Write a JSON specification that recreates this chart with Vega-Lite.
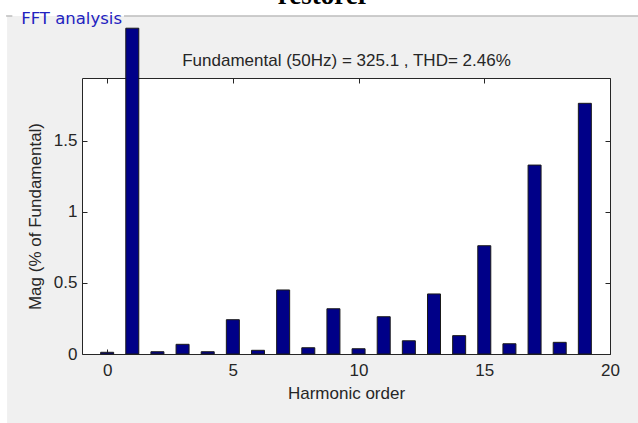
{
  "$schema": "https://vega.github.io/schema/vega-lite/v6.json",
  "width": 528,
  "height": 276,
  "autosize": {"type": "none"},
  "padding": {"left": 82, "top": 78, "right": 28, "bottom": 69},
  "background": "#f0f0f0",
  "config": {
    "view": {"fill": "white", "stroke": null},
    "axis": {
      "grid": false,
      "domainColor": "#262626",
      "tickColor": "#262626",
      "tickSize": -5,
      "labelFont": "Liberation Sans",
      "labelFontSize": 17,
      "labelColor": "#262626",
      "labelFlush": false,
      "titleFont": "Liberation Sans",
      "titleFontSize": 17,
      "titleFontWeight": "normal",
      "titleColor": "#262626"
    }
  },
  "data": {
    "values": [
      {"h": 0, "mag": 0.012},
      {"h": 1, "mag": 2.29},
      {"h": 2, "mag": 0.016},
      {"h": 3, "mag": 0.068},
      {"h": 4, "mag": 0.016},
      {"h": 5, "mag": 0.241},
      {"h": 6, "mag": 0.026},
      {"h": 7, "mag": 0.45},
      {"h": 8, "mag": 0.044},
      {"h": 9, "mag": 0.318},
      {"h": 10, "mag": 0.037},
      {"h": 11, "mag": 0.262},
      {"h": 12, "mag": 0.093},
      {"h": 13, "mag": 0.422},
      {"h": 14, "mag": 0.129},
      {"h": 15, "mag": 0.761},
      {"h": 16, "mag": 0.072},
      {"h": 17, "mag": 1.328},
      {"h": 18, "mag": 0.082},
      {"h": 19, "mag": 1.762}
    ]
  },
  "resolve": {"axis": {"x": "independent", "y": "independent"}},
  "layer": [
    {
      "data": {"values": [{}]},
      "mark": {"type": "rect", "fill": "white"},
      "encoding": {
        "x": {"datum": -5, "type": "quantitative", "scale": {"domain": [-1, 20], "nice": false, "zero": false, "padding": 0}, "axis": null},
        "x2": {"datum": 23},
        "y": {"datum": 2.376, "type": "quantitative", "scale": {"domain": [0, 1.94], "nice": false, "padding": 0}, "axis": null},
        "y2": {"datum": 3}
      }
    },
    {
      "data": {"values": [{}]},
      "mark": {"type": "rect", "fill": "white"},
      "encoding": {
        "x": {"datum": -5, "type": "quantitative", "scale": {"domain": [-1, 20], "nice": false, "zero": false, "padding": 0}, "axis": null},
        "x2": {"datum": -3.98},
        "y": {"datum": -1, "type": "quantitative", "scale": {"domain": [0, 1.94], "nice": false, "padding": 0}, "axis": null},
        "y2": {"datum": 3}
      }
    },
    {
      "data": {"values": [{}]},
      "mark": {"type": "rule", "color": "#a0a0a0", "strokeWidth": 1},
      "encoding": {
        "x": {"datum": -4.02, "type": "quantitative", "scale": {"domain": [-1, 20], "nice": false, "zero": false, "padding": 0}, "axis": null},
        "x2": {"datum": -3.77},
        "y": {"datum": 2.376, "type": "quantitative", "scale": {"domain": [0, 1.94], "nice": false, "padding": 0}, "axis": null}
      }
    },
    {
      "data": {"values": [{}]},
      "mark": {"type": "rule", "color": "#a0a0a0", "strokeWidth": 1},
      "encoding": {
        "x": {"datum": 0.67, "type": "quantitative", "scale": {"domain": [-1, 20], "nice": false, "zero": false, "padding": 0}, "axis": null},
        "x2": {"datum": 23},
        "y": {"datum": 2.376, "type": "quantitative", "scale": {"domain": [0, 1.94], "nice": false, "padding": 0}, "axis": null}
      }
    },
    {
      "data": {"values": [{}]},
      "mark": {"type": "text", "text": "FFT analysis", "align": "left", "baseline": "alphabetic", "font": "DejaVu Sans", "fontSize": 16.5, "color": "#2222c0"},
      "encoding": {
        "x": {"datum": -3.42, "type": "quantitative", "scale": {"domain": [-1, 20], "nice": false, "zero": false, "padding": 0}, "axis": null},
        "y": {"datum": 2.317, "type": "quantitative", "scale": {"domain": [0, 1.94], "nice": false, "padding": 0}, "axis": null}
      }
    },
    {
      "data": {"values": [{}]},
      "mark": {"type": "text", "text": "restorer", "align": "center", "baseline": "alphabetic", "font": "Liberation Serif", "fontWeight": "bold", "fontSize": 27, "color": "black"},
      "encoding": {
        "x": {"datum": 8.61, "type": "quantitative", "scale": {"domain": [-1, 20], "nice": false, "zero": false, "padding": 0}, "axis": null},
        "y": {"datum": 2.46, "type": "quantitative", "scale": {"domain": [0, 1.94], "nice": false, "padding": 0}, "axis": null}
      }
    },
    {
      "mark": {"type": "bar", "width": 13, "fill": "#000088", "stroke": "#1a1a1a", "strokeWidth": 1},
      "encoding": {
        "x": {
          "field": "h", "type": "quantitative",
          "scale": {"domain": [-1, 20], "nice": false, "zero": false, "padding": 0},
          "axis": {"orient": "bottom", "values": [0, 5, 10, 15, 20], "title": "Harmonic order", "labelPadding": 13, "titlePadding": 7}
        },
        "y": {
          "field": "mag", "type": "quantitative",
          "scale": {"domain": [0, 1.94], "nice": false, "padding": 0},
          "axis": {"orient": "left", "values": [0, 0.5, 1, 1.5], "format": "~g", "title": "Mag (% of Fundamental)", "labelPadding": 10, "titlePadding": 9}
        }
      }
    },
    {
      "mark": {"type": "bar", "width": 13, "opacity": 0},
      "encoding": {
        "x": {
          "field": "h", "type": "quantitative",
          "scale": {"domain": [-1, 20], "nice": false, "zero": false, "padding": 0},
          "axis": {"orient": "top", "values": [0, 5, 10, 15, 20], "labels": false, "title": "Fundamental (50Hz) = 325.1 , THD= 2.46%", "titlePadding": 8}
        },
        "y": {
          "field": "mag", "type": "quantitative",
          "scale": {"domain": [0, 1.94], "nice": false, "padding": 0},
          "axis": {"orient": "right", "values": [0, 0.5, 1, 1.5], "labels": false, "title": null}
        }
      }
    }
  ]
}
